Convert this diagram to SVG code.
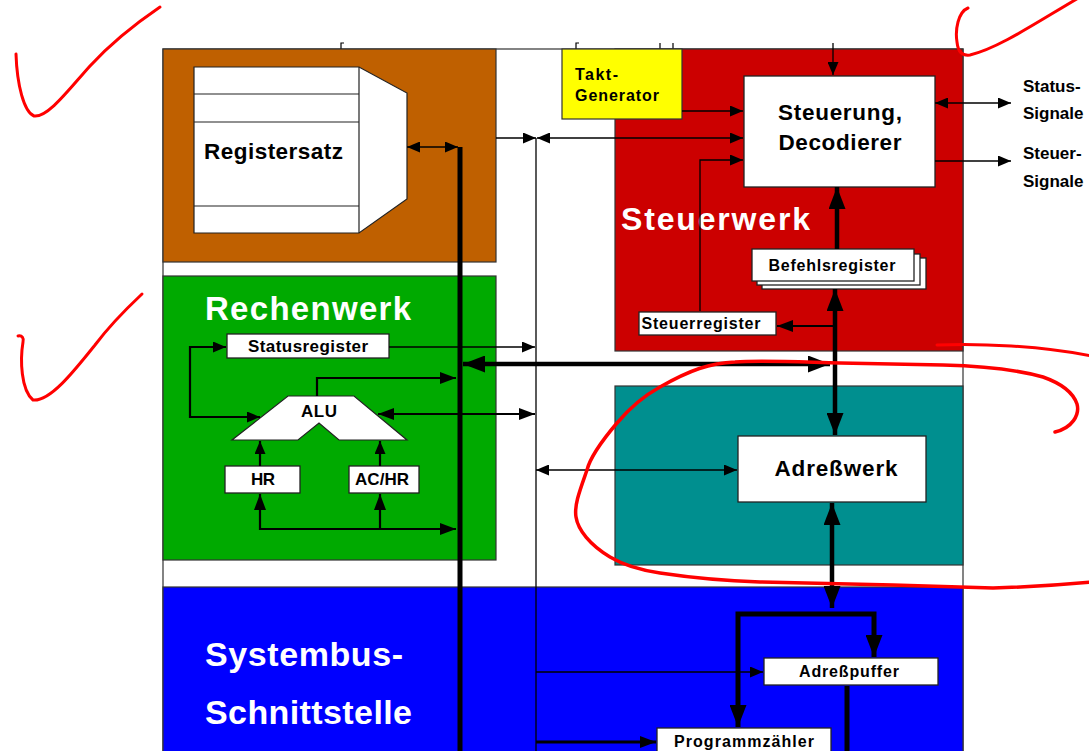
<svg xmlns="http://www.w3.org/2000/svg" width="1089" height="751" viewBox="0 0 1089 751">
  <style>
    .blk { stroke: #333; stroke-width: 1.2; }
    .box { fill: #fff; stroke: #222; stroke-width: 1.3; }
    .t { font-family: "Liberation Sans", Arial, sans-serif; font-weight: bold; fill: #000; }
    .tw { font-family: "Liberation Sans", Arial, sans-serif; font-weight: bold; fill: #fff; }
    .c { text-anchor: middle; }
    .ln { fill: none; stroke: #000; }
    .thin { stroke-width: 1.3; }
    .med { stroke-width: 2.2; }
    .thick { stroke-width: 4.5; }
    .bus { stroke-width: 5; }
    .ink { fill: none; stroke: #f00; stroke-linecap: round; stroke-linejoin: round; }
  </style>
  <defs>
    <marker id="aS" markerUnits="userSpaceOnUse" viewBox="0 0 13 11" refX="13" refY="5.5" markerWidth="13" markerHeight="11" orient="auto-start-reverse">
      <path d="M0,0 L13,5.5 L0,11 z" fill="#000"/>
    </marker>
    <marker id="aM" markerUnits="userSpaceOnUse" viewBox="0 0 16 12" refX="16" refY="6" markerWidth="16" markerHeight="12" orient="auto-start-reverse">
      <path d="M0,0 L16,6 L0,12 z" fill="#000"/>
    </marker>
    <marker id="aL" markerUnits="userSpaceOnUse" viewBox="0 0 22 17" refX="22" refY="8.5" markerWidth="22" markerHeight="17" orient="auto-start-reverse">
      <path d="M0,0 L22,8.5 L0,17 z" fill="#000"/>
    </marker>
  </defs>

  <rect width="1089" height="751" fill="#fff"/>

  <!-- outer frame of the processor -->
  <g id="frame">
    <rect x="163" y="49" width="800" height="720" fill="#fff" class="blk"/>
    <!-- cut-off marks above the top edge -->
    <path d="M341,49 V43 H344 M576,49 V43 H579 M660,49 V43 M673,49 V43" fill="none" stroke="#000" stroke-width="1.2"/>
  </g>

  <!-- Registersatz block -->
  <g id="registersatz">
    <rect x="163" y="49" width="333" height="213" fill="#BF6000" class="blk"/>
    <path d="M194,67 H359 L407,93 V199 L359,233 H194 Z" fill="#fff" stroke="#222" stroke-width="1.2"/>
    <path d="M194,94 H359 M194,122 H359 M194,206 H359 M359,67 V233" fill="none" stroke="#222" stroke-width="1.2"/>
    <text class="t" x="204" y="159" font-size="22.5" textLength="139" lengthAdjust="spacing">Registersatz</text>
  </g>

  <!-- Rechenwerk block -->
  <g id="rechenwerk">
    <rect x="163" y="276" width="333" height="284" fill="#00AA00" class="blk"/>
    <text class="tw" x="205" y="320" font-size="33" textLength="206" lengthAdjust="spacing">Rechenwerk</text>
  </g>
  <g id="statusregister">
    <rect x="227" y="334" width="162" height="24" class="box"/>
    <text class="t c" x="308" y="352" font-size="17" textLength="120" lengthAdjust="spacing">Statusregister</text>
  </g>
  <g id="alu">
    <path d="M288,396 H354 L407,440 H339 L319,423 L298,440 H232 Z" fill="#fff" stroke="#222" stroke-width="1.2"/>
    <text class="t c" x="319" y="417" font-size="17" textLength="36" lengthAdjust="spacing">ALU</text>
  </g>
  <g id="hr">
    <rect x="225" y="466" width="75" height="27" class="box"/>
    <text class="t c" x="263" y="485" font-size="17" textLength="24" lengthAdjust="spacing">HR</text>
  </g>
  <g id="achr">
    <rect x="349" y="466" width="70" height="27" class="box"/>
    <text class="t c" x="382" y="485" font-size="17" textLength="54" lengthAdjust="spacing">AC/HR</text>
  </g>

  <!-- Steuerwerk block -->
  <g id="steuerwerk">
    <rect x="615" y="49" width="348" height="302" fill="#CC0000" class="blk"/>
    <text class="tw" x="621" y="230" font-size="32" textLength="189" lengthAdjust="spacing">Steuerwerk</text>
  </g>
  <g id="taktgenerator">
    <rect x="562" y="49" width="120" height="70" fill="#FFFF00" class="blk"/>
    <text class="t" x="575" y="80" font-size="16" textLength="43" lengthAdjust="spacing">Takt-</text>
    <text class="t" x="575" y="101" font-size="16" textLength="84" lengthAdjust="spacing">Generator</text>
  </g>
  <g id="steuerung">
    <rect x="744" y="76" width="191" height="111" class="box"/>
    <text class="t c" x="840" y="120" font-size="22.5" textLength="124" lengthAdjust="spacing">Steuerung,</text>
    <text class="t c" x="840" y="150" font-size="22.5" textLength="123" lengthAdjust="spacing">Decodierer</text>
  </g>
  <g id="befehlsregister">
    <rect x="762" y="258" width="164" height="31" class="box"/>
    <rect x="757" y="254" width="163" height="31" class="box"/>
    <rect x="752" y="249" width="162" height="32" class="box"/>
    <text class="t c" x="832" y="271" font-size="16" textLength="127" lengthAdjust="spacing">Befehlsregister</text>
  </g>
  <g id="steuerregister">
    <rect x="639" y="312" width="137" height="23" class="box"/>
    <text class="t c" x="701" y="329" font-size="16" textLength="119" lengthAdjust="spacing">Steuerregister</text>
  </g>
  <g id="signale">
    <text class="t" x="1023" y="92" font-size="17">Status-</text>
    <text class="t" x="1023" y="119" font-size="17">Signale</text>
    <text class="t" x="1023" y="159" font-size="17">Steuer-</text>
    <text class="t" x="1023" y="187" font-size="17">Signale</text>
  </g>

  <!-- Adresswerk block -->
  <g id="adresswerk-block">
    <rect x="615" y="386" width="348" height="179" fill="#008F8F" class="blk"/>
  </g>
  <g id="adresswerk">
    <rect x="738" y="436" width="188" height="66" class="box"/>
    <text class="t c" x="836" y="476" font-size="22.5" textLength="123" lengthAdjust="spacing">Adreßwerk</text>
  </g>

  <!-- Systembus-Schnittstelle block -->
  <g id="systembus">
    <rect x="163" y="587" width="800" height="180" fill="#0000FF" class="blk"/>
    <text class="tw" x="205" y="666" font-size="34" textLength="198" lengthAdjust="spacing">Systembus-</text>
    <text class="tw" x="205" y="724" font-size="34" textLength="207" lengthAdjust="spacing">Schnittstelle</text>
  </g>
  <g id="adresspuffer">
    <rect x="764" y="658" width="174" height="27" class="box"/>
    <text class="t c" x="849" y="677" font-size="16" textLength="100" lengthAdjust="spacing">Adreßpuffer</text>
  </g>
  <g id="programmzaehler">
    <rect x="657" y="728" width="174" height="40" class="box"/>
    <text class="t c" x="744" y="747" font-size="16" textLength="140" lengthAdjust="spacing">Programmzähler</text>
  </g>

  <!-- connectors -->
  <g id="connectors">
    <!-- internal data bus and control line -->
    <path class="ln bus" d="M460,147 V760"/>
    <path class="ln thin" d="M536,138 V760"/>

    <path class="ln thin" d="M407,147 H458" marker-start="url(#aS)" marker-end="url(#aS)"/>
    <path class="ln thin" d="M496,138 H536" marker-end="url(#aS)"/>
    <path class="ln thin" d="M537,138 H743" marker-start="url(#aS)" marker-end="url(#aS)"/>
    <path class="ln thin" d="M682,111 H743" marker-end="url(#aS)"/>
    <path class="ln thin" d="M700,311 V160 H743" marker-end="url(#aS)"/>
    <path class="ln thin" d="M833,43 V75" marker-end="url(#aS)"/>
    <path class="ln thin" d="M935,103 H1011" marker-start="url(#aS)" marker-end="url(#aS)"/>
    <path class="ln thin" d="M935,161 H1011" marker-end="url(#aS)"/>

    <!-- Rechenwerk -->
    <path class="ln med" d="M226,347 H190 V417 H260" marker-start="url(#aS)" marker-end="url(#aS)"/>
    <path class="ln thin" d="M389,347 H535" marker-end="url(#aS)"/>
    <path class="ln med" d="M317,396 V378 H456" marker-end="url(#aM)"/>
    <path class="ln med" d="M378,414 H535" marker-start="url(#aM)" marker-end="url(#aM)"/>
    <path class="ln med" d="M260,466 V441" marker-end="url(#aS)"/>
    <path class="ln med" d="M380,466 V441" marker-end="url(#aS)"/>
    <path class="ln med" d="M260,494 V529 H456" marker-start="url(#aM)" marker-end="url(#aM)"/>
    <path class="ln med" d="M380,529 V494" marker-end="url(#aM)"/>

    <!-- bus to Steuerwerk / Adresswerk -->
    <path class="ln thick" d="M463,364 H830" marker-start="url(#aL)" marker-end="url(#aL)"/>
    <path class="ln thin" d="M536,470 H737" marker-start="url(#aS)" marker-end="url(#aS)"/>
    <path class="ln thick" d="M837,249 V187" marker-end="url(#aL)"/>
    <path class="ln thick" d="M835,289 V435" marker-start="url(#aL)" marker-end="url(#aL)"/>
    <path class="ln med" d="M835,326 H777" marker-end="url(#aM)"/>
    <path class="ln thick" d="M832,503 V608" marker-start="url(#aL)" marker-end="url(#aL)"/>

    <!-- Systembus-Schnittstelle -->
    <path class="ln bus" d="M738,727 V614 H874 V657" marker-start="url(#aL)" marker-end="url(#aL)"/>
    <path class="ln bus" d="M847,686 V760"/>
    <path class="ln thin" d="M536,672 H763" marker-end="url(#aS)"/>
    <path class="ln" stroke-width="3" d="M536,742 H656" marker-end="url(#aM)"/>
  </g>

  <!-- red pen marks -->
  <g id="annotations">
    <path class="ink" stroke-width="3" d="M16,54 C17,85 24,112 34,116 C48,118 70,88 90,66 C112,42 135,24 160,7"/>
    <path class="ink" stroke-width="3" d="M18,336 C22,335 24,338 23,342 C20,360 21,390 33,400 C50,402 75,370 95,345 C110,325 125,310 142,294"/>
    <path class="ink" stroke-width="3" d="M968,8 C958,12 955,30 957,42 C958,52 962,56 970,55 C1000,48 1040,20 1092,-10"/>
    <path class="ink" stroke-width="3" d="M937,345 C980,343 1040,346 1092,356"/>
    <path class="ink" stroke-width="3.5" d="M1055,432 C1072,428 1080,415 1077,404 C1073,392 1060,383 1043,377 C1015,369 980,366 943,365 L840,363 C800,362 760,360 735,362 C710,363 690,370 660,387 C640,398 628,410 617,423 C600,443 590,458 587,470 C580,490 574,505 576,517 C578,530 590,545 610,557 C625,566 640,570 660,573 C700,579 730,581 760,582 L893,585 L993,588 C1030,587 1060,585 1092,582"/>
  </g>
</svg>
